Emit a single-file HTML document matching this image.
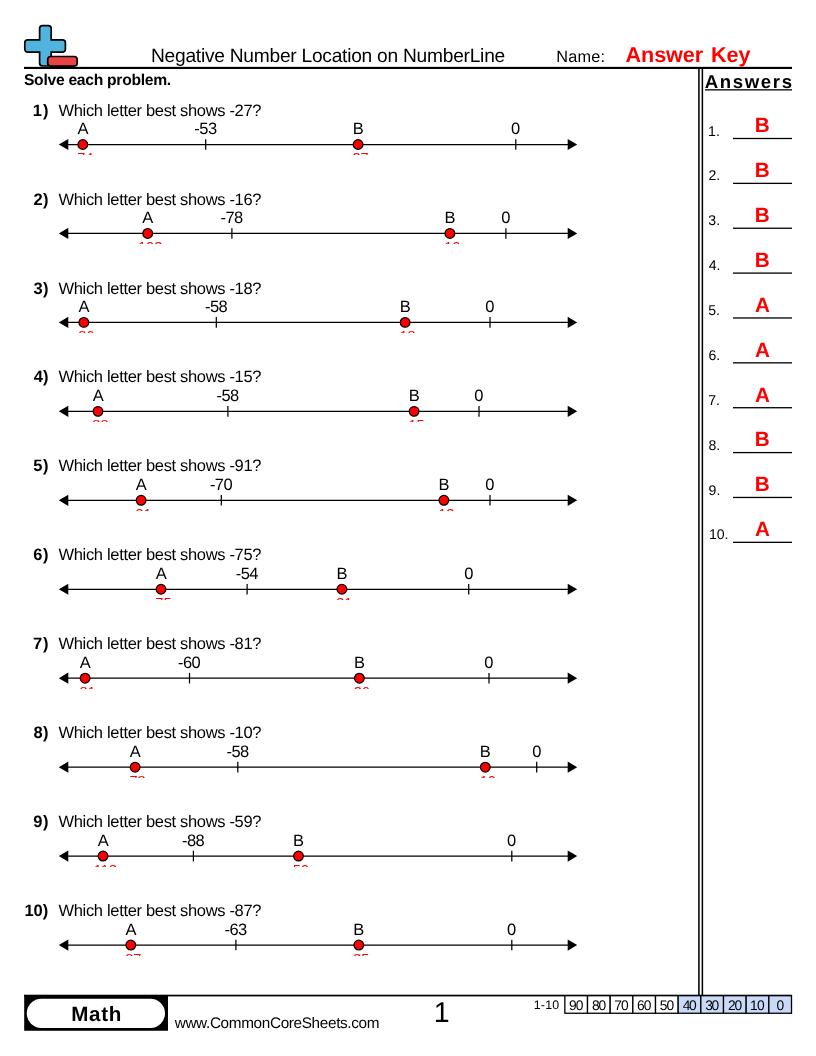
<!DOCTYPE html>
<html><head><meta charset="utf-8"><title>Negative Number Location on NumberLine</title>
<style>
*{margin:0;padding:0;box-sizing:border-box}
html,body{width:816px;height:1056px;background:#fff;overflow:hidden}
body{position:relative;will-change:transform;font-family:"Liberation Sans",sans-serif;color:#000;text-rendering:geometricPrecision}
.t{position:absolute;white-space:nowrap;line-height:1}
.b{font-weight:bold}
.r{color:#f00}
.val{position:absolute;white-space:nowrap;line-height:1;font-size:14.5px;color:#f00;text-align:center;width:60px;height:2px;overflow:hidden}
.val span{position:absolute;left:0;width:60px;display:block}
svg{position:absolute;left:0;top:0}
</style></head>
<body>
<svg width="816" height="1056" viewBox="0 0 816 1056">
<path d="M42.6 25.6 h5.6 a3 3 0 0 1 3 3 v11.2 h11.2 a3 3 0 0 1 3 3 v6.4 a3 3 0 0 1 -3 3 h-11.2 v10.8 a3 3 0 0 1 -3 3 h-5.6 a3 3 0 0 1 -3 -3 v-10.8 h-11.8 a3 3 0 0 1 -3 -3 v-6.4 a3 3 0 0 1 3 -3 h11.8 v-11.2 a3 3 0 0 1 3 -3 z" fill="#50b4df" stroke="#000" stroke-width="1.7"/>
<rect x="47.7" y="56.5" width="29.5" height="9.6" rx="3" fill="#e84444" stroke="#000" stroke-width="1.7"/>
<rect x="24" y="66.85" width="768" height="2.15" fill="#000"/>
<rect x="698.15" y="68" width="1.55" height="927" fill="#000"/>
<rect x="701.6" y="68" width="1.55" height="927" fill="#000"/>
<rect x="705" y="89.2" width="87" height="1.3" fill="#000"/>
<rect x="733" y="137.85" width="59" height="1.3" fill="#000"/>
<rect x="733" y="182.72" width="59" height="1.3" fill="#000"/>
<rect x="733" y="227.59" width="59" height="1.3" fill="#000"/>
<rect x="733" y="272.46" width="59" height="1.3" fill="#000"/>
<rect x="733" y="317.33" width="59" height="1.3" fill="#000"/>
<rect x="733" y="362.20" width="59" height="1.3" fill="#000"/>
<rect x="733" y="407.07" width="59" height="1.3" fill="#000"/>
<rect x="733" y="451.94" width="59" height="1.3" fill="#000"/>
<rect x="733" y="496.81" width="59" height="1.3" fill="#000"/>
<rect x="733" y="541.68" width="59" height="1.3" fill="#000"/>
<g transform="translate(0 144.50)"><line x1="66" y1="0" x2="570" y2="0" stroke="#000" stroke-width="1.25"/><path d="M58.8 0 L68.3 -5.6 L68.3 5.6 Z M577.2 0 L567.7 -5.6 L567.7 5.6 Z" fill="#000"/><line x1="205.7" y1="-5.3" x2="205.7" y2="5.3" stroke="#000" stroke-width="1.25"/><line x1="515.8" y1="-5.3" x2="515.8" y2="5.3" stroke="#000" stroke-width="1.25"/><circle cx="82.8" cy="0" r="4.85" fill="#f00" stroke="#000" stroke-width="1.25"/><circle cx="358.1" cy="0" r="4.85" fill="#f00" stroke="#000" stroke-width="1.25"/></g>
<g transform="translate(0 233.45)"><line x1="66" y1="0" x2="570" y2="0" stroke="#000" stroke-width="1.25"/><path d="M58.8 0 L68.3 -5.6 L68.3 5.6 Z M577.2 0 L567.7 -5.6 L567.7 5.6 Z" fill="#000"/><line x1="231.9" y1="-5.3" x2="231.9" y2="5.3" stroke="#000" stroke-width="1.25"/><line x1="505.9" y1="-5.3" x2="505.9" y2="5.3" stroke="#000" stroke-width="1.25"/><circle cx="147.7" cy="0" r="4.85" fill="#f00" stroke="#000" stroke-width="1.25"/><circle cx="449.9" cy="0" r="4.85" fill="#f00" stroke="#000" stroke-width="1.25"/></g>
<g transform="translate(0 322.40)"><line x1="66" y1="0" x2="570" y2="0" stroke="#000" stroke-width="1.25"/><path d="M58.8 0 L68.3 -5.6 L68.3 5.6 Z M577.2 0 L567.7 -5.6 L567.7 5.6 Z" fill="#000"/><line x1="216.3" y1="-5.3" x2="216.3" y2="5.3" stroke="#000" stroke-width="1.25"/><line x1="490.0" y1="-5.3" x2="490.0" y2="5.3" stroke="#000" stroke-width="1.25"/><circle cx="83.8" cy="0" r="4.85" fill="#f00" stroke="#000" stroke-width="1.25"/><circle cx="405.1" cy="0" r="4.85" fill="#f00" stroke="#000" stroke-width="1.25"/></g>
<g transform="translate(0 411.35)"><line x1="66" y1="0" x2="570" y2="0" stroke="#000" stroke-width="1.25"/><path d="M58.8 0 L68.3 -5.6 L68.3 5.6 Z M577.2 0 L567.7 -5.6 L567.7 5.6 Z" fill="#000"/><line x1="227.9" y1="-5.3" x2="227.9" y2="5.3" stroke="#000" stroke-width="1.25"/><line x1="479.0" y1="-5.3" x2="479.0" y2="5.3" stroke="#000" stroke-width="1.25"/><circle cx="98.0" cy="0" r="4.85" fill="#f00" stroke="#000" stroke-width="1.25"/><circle cx="414.1" cy="0" r="4.85" fill="#f00" stroke="#000" stroke-width="1.25"/></g>
<g transform="translate(0 500.30)"><line x1="66" y1="0" x2="570" y2="0" stroke="#000" stroke-width="1.25"/><path d="M58.8 0 L68.3 -5.6 L68.3 5.6 Z M577.2 0 L567.7 -5.6 L567.7 5.6 Z" fill="#000"/><line x1="221.3" y1="-5.3" x2="221.3" y2="5.3" stroke="#000" stroke-width="1.25"/><line x1="490.0" y1="-5.3" x2="490.0" y2="5.3" stroke="#000" stroke-width="1.25"/><circle cx="141.1" cy="0" r="4.85" fill="#f00" stroke="#000" stroke-width="1.25"/><circle cx="443.9" cy="0" r="4.85" fill="#f00" stroke="#000" stroke-width="1.25"/></g>
<g transform="translate(0 589.25)"><line x1="66" y1="0" x2="570" y2="0" stroke="#000" stroke-width="1.25"/><path d="M58.8 0 L68.3 -5.6 L68.3 5.6 Z M577.2 0 L567.7 -5.6 L567.7 5.6 Z" fill="#000"/><line x1="247.1" y1="-5.3" x2="247.1" y2="5.3" stroke="#000" stroke-width="1.25"/><line x1="468.7" y1="-5.3" x2="468.7" y2="5.3" stroke="#000" stroke-width="1.25"/><circle cx="161.0" cy="0" r="4.85" fill="#f00" stroke="#000" stroke-width="1.25"/><circle cx="341.9" cy="0" r="4.85" fill="#f00" stroke="#000" stroke-width="1.25"/></g>
<g transform="translate(0 678.20)"><line x1="66" y1="0" x2="570" y2="0" stroke="#000" stroke-width="1.25"/><path d="M58.8 0 L68.3 -5.6 L68.3 5.6 Z M577.2 0 L567.7 -5.6 L567.7 5.6 Z" fill="#000"/><line x1="189.5" y1="-5.3" x2="189.5" y2="5.3" stroke="#000" stroke-width="1.25"/><line x1="489.0" y1="-5.3" x2="489.0" y2="5.3" stroke="#000" stroke-width="1.25"/><circle cx="85.1" cy="0" r="4.85" fill="#f00" stroke="#000" stroke-width="1.25"/><circle cx="359.4" cy="0" r="4.85" fill="#f00" stroke="#000" stroke-width="1.25"/></g>
<g transform="translate(0 767.15)"><line x1="66" y1="0" x2="570" y2="0" stroke="#000" stroke-width="1.25"/><path d="M58.8 0 L68.3 -5.6 L68.3 5.6 Z M577.2 0 L567.7 -5.6 L567.7 5.6 Z" fill="#000"/><line x1="237.8" y1="-5.3" x2="237.8" y2="5.3" stroke="#000" stroke-width="1.25"/><line x1="536.7" y1="-5.3" x2="536.7" y2="5.3" stroke="#000" stroke-width="1.25"/><circle cx="135.1" cy="0" r="4.85" fill="#f00" stroke="#000" stroke-width="1.25"/><circle cx="485.3" cy="0" r="4.85" fill="#f00" stroke="#000" stroke-width="1.25"/></g>
<g transform="translate(0 856.10)"><line x1="66" y1="0" x2="570" y2="0" stroke="#000" stroke-width="1.25"/><path d="M58.8 0 L68.3 -5.6 L68.3 5.6 Z M577.2 0 L567.7 -5.6 L567.7 5.6 Z" fill="#000"/><line x1="193.4" y1="-5.3" x2="193.4" y2="5.3" stroke="#000" stroke-width="1.25"/><line x1="511.8" y1="-5.3" x2="511.8" y2="5.3" stroke="#000" stroke-width="1.25"/><circle cx="103.0" cy="0" r="4.85" fill="#f00" stroke="#000" stroke-width="1.25"/><circle cx="298.5" cy="0" r="4.85" fill="#f00" stroke="#000" stroke-width="1.25"/></g>
<g transform="translate(0 945.05)"><line x1="66" y1="0" x2="570" y2="0" stroke="#000" stroke-width="1.25"/><path d="M58.8 0 L68.3 -5.6 L68.3 5.6 Z M577.2 0 L567.7 -5.6 L567.7 5.6 Z" fill="#000"/><line x1="235.9" y1="-5.3" x2="235.9" y2="5.3" stroke="#000" stroke-width="1.25"/><line x1="511.8" y1="-5.3" x2="511.8" y2="5.3" stroke="#000" stroke-width="1.25"/><circle cx="130.8" cy="0" r="4.85" fill="#f00" stroke="#000" stroke-width="1.25"/><circle cx="358.8" cy="0" r="4.85" fill="#f00" stroke="#000" stroke-width="1.25"/></g>
<rect x="24" y="994.7" width="768" height="1.7" fill="#000"/>
<rect x="24.2" y="995" width="143.8" height="35.75" fill="#000"/>
<rect x="26.75" y="998.75" width="138.25" height="29.25" rx="14.6" fill="#fff"/>
<rect x="564.85" y="995.7" width="22.665" height="17.55" fill="#fff" stroke="#000" stroke-width="1.3"/>
<rect x="587.51" y="995.7" width="22.665" height="17.55" fill="#fff" stroke="#000" stroke-width="1.3"/>
<rect x="610.18" y="995.7" width="22.665" height="17.55" fill="#fff" stroke="#000" stroke-width="1.3"/>
<rect x="632.85" y="995.7" width="22.665" height="17.55" fill="#fff" stroke="#000" stroke-width="1.3"/>
<rect x="655.51" y="995.7" width="22.665" height="17.55" fill="#fff" stroke="#000" stroke-width="1.3"/>
<rect x="678.17" y="995.7" width="22.665" height="17.55" fill="#c9daf8" stroke="#000" stroke-width="1.3"/>
<rect x="700.84" y="995.7" width="22.665" height="17.55" fill="#c9daf8" stroke="#000" stroke-width="1.3"/>
<rect x="723.50" y="995.7" width="22.665" height="17.55" fill="#c9daf8" stroke="#000" stroke-width="1.3"/>
<rect x="746.17" y="995.7" width="22.665" height="17.55" fill="#c9daf8" stroke="#000" stroke-width="1.3"/>
<rect x="768.84" y="995.7" width="22.665" height="17.55" fill="#c9daf8" stroke="#000" stroke-width="1.3"/>
</svg>
<div class="t" style="left:150.96px;top:47px;font-size:19.2px;letter-spacing:-0.255px">Negative Number Location on NumberLine</div>
<div class="t" style="left:556.18px;top:49px;font-size:16.3px;letter-spacing:0.197px">Name:</div>
<div class="t b r" style="left:625.59px;top:44px;font-size:21.6px;letter-spacing:-0.096px;word-spacing:2.2px">Answer Key</div>
<div class="t b" style="left:23.96px;top:73px;font-size:15.7px;letter-spacing:-0.294px">Solve each problem.</div>
<div class="t b" style="left:704.65px;top:73px;font-size:18.6px;letter-spacing:1.642px">Answers</div>
<div class="t" style="left:708.12px;top:124px;font-size:14.1px">1.</div>
<div class="t b r" style="left:754.64px;top:116px;font-size:20.7px">B</div>
<div class="t" style="left:708.51px;top:168px;font-size:14.1px">2.</div>
<div class="t b r" style="left:754.64px;top:161px;font-size:20.7px">B</div>
<div class="t" style="left:708.35px;top:213px;font-size:14.1px">3.</div>
<div class="t b r" style="left:754.64px;top:206px;font-size:20.7px">B</div>
<div class="t" style="left:708.65px;top:258px;font-size:14.1px">4.</div>
<div class="t b r" style="left:754.64px;top:251px;font-size:20.7px">B</div>
<div class="t" style="left:708.23px;top:303px;font-size:14.1px">5.</div>
<div class="t b r" style="left:754.93px;top:296px;font-size:20.7px">A</div>
<div class="t" style="left:708.47px;top:348px;font-size:14.1px">6.</div>
<div class="t b r" style="left:754.93px;top:341px;font-size:20.7px">A</div>
<div class="t" style="left:708.25px;top:393px;font-size:14.1px">7.</div>
<div class="t b r" style="left:754.93px;top:386px;font-size:20.7px">A</div>
<div class="t" style="left:708.42px;top:438px;font-size:14.1px">8.</div>
<div class="t b r" style="left:754.64px;top:430px;font-size:20.7px">B</div>
<div class="t" style="left:708.56px;top:483px;font-size:14.1px">9.</div>
<div class="t b r" style="left:754.64px;top:475px;font-size:20.7px">B</div>
<div class="t" style="left:708.92px;top:527px;font-size:14.1px">10.</div>
<div class="t b r" style="left:754.93px;top:520px;font-size:20.7px">A</div>
<div class="t b" style="left:32.79px;top:103px;font-size:16.5px;letter-spacing:0.984px">1)</div>
<div class="t" style="left:58.49px;top:103px;font-size:16.5px;letter-spacing:-0.327px">Which letter best shows -27?</div>
<div class="t" style="left:77.52px;top:121px;font-size:16.5px">A</div>
<div class="t" style="left:352.65px;top:121px;font-size:16.5px">B</div>
<div class="t" style="left:194.25px;top:121px;font-size:16.5px;letter-spacing:-0.422px">-53</div>
<div class="t" style="left:511.06px;top:121px;font-size:16.5px">0</div>
<div class="t b" style="left:33.43px;top:192px;font-size:16.5px;letter-spacing:0.341px">2)</div>
<div class="t" style="left:58.49px;top:192px;font-size:16.5px;letter-spacing:-0.327px">Which letter best shows -16?</div>
<div class="t" style="left:142.24px;top:210px;font-size:16.5px">A</div>
<div class="t" style="left:444.42px;top:210px;font-size:16.5px">B</div>
<div class="t" style="left:220.47px;top:210px;font-size:16.5px;letter-spacing:-0.531px">-78</div>
<div class="t" style="left:501.33px;top:210px;font-size:16.5px">0</div>
<div class="t b" style="left:33.41px;top:281px;font-size:16.5px;letter-spacing:0.369px">3)</div>
<div class="t" style="left:58.49px;top:281px;font-size:16.5px;letter-spacing:-0.327px">Which letter best shows -18?</div>
<div class="t" style="left:78.52px;top:299px;font-size:16.5px">A</div>
<div class="t" style="left:399.65px;top:299px;font-size:16.5px">B</div>
<div class="t" style="left:205.01px;top:299px;font-size:16.5px;letter-spacing:-0.545px">-58</div>
<div class="t" style="left:485.36px;top:299px;font-size:16.5px">0</div>
<div class="t b" style="left:33.74px;top:369px;font-size:16.5px;letter-spacing:0.039px">4)</div>
<div class="t" style="left:58.49px;top:369px;font-size:16.5px;letter-spacing:-0.327px">Which letter best shows -15?</div>
<div class="t" style="left:92.74px;top:388px;font-size:16.5px">A</div>
<div class="t" style="left:408.65px;top:388px;font-size:16.5px">B</div>
<div class="t" style="left:216.47px;top:388px;font-size:16.5px;letter-spacing:-0.531px">-58</div>
<div class="t" style="left:474.36px;top:388px;font-size:16.5px">0</div>
<div class="t b" style="left:33.23px;top:458px;font-size:16.5px;letter-spacing:0.545px">5)</div>
<div class="t" style="left:58.49px;top:458px;font-size:16.5px;letter-spacing:-0.327px">Which letter best shows -91?</div>
<div class="t" style="left:135.69px;top:477px;font-size:16.5px">A</div>
<div class="t" style="left:438.42px;top:477px;font-size:16.5px">B</div>
<div class="t" style="left:210.01px;top:477px;font-size:16.5px;letter-spacing:-0.647px">-70</div>
<div class="t" style="left:485.36px;top:477px;font-size:16.5px">0</div>
<div class="t b" style="left:33.19px;top:547px;font-size:16.5px;letter-spacing:0.588px">6)</div>
<div class="t" style="left:58.49px;top:547px;font-size:16.5px;letter-spacing:-0.327px">Which letter best shows -75?</div>
<div class="t" style="left:155.74px;top:566px;font-size:16.5px">A</div>
<div class="t" style="left:336.42px;top:566px;font-size:16.5px">B</div>
<div class="t" style="left:235.74px;top:566px;font-size:16.5px;letter-spacing:-0.563px">-54</div>
<div class="t" style="left:464.13px;top:566px;font-size:16.5px">0</div>
<div class="t b" style="left:33.09px;top:636px;font-size:16.5px;letter-spacing:0.686px">7)</div>
<div class="t" style="left:58.49px;top:636px;font-size:16.5px;letter-spacing:-0.327px">Which letter best shows -81?</div>
<div class="t" style="left:79.69px;top:655px;font-size:16.5px">A</div>
<div class="t" style="left:353.92px;top:655px;font-size:16.5px">B</div>
<div class="t" style="left:178.01px;top:655px;font-size:16.5px;letter-spacing:-0.527px">-60</div>
<div class="t" style="left:484.36px;top:655px;font-size:16.5px">0</div>
<div class="t b" style="left:33.40px;top:725px;font-size:16.5px;letter-spacing:0.373px">8)</div>
<div class="t" style="left:58.49px;top:725px;font-size:16.5px;letter-spacing:-0.327px">Which letter best shows -10?</div>
<div class="t" style="left:129.69px;top:744px;font-size:16.5px">A</div>
<div class="t" style="left:479.64px;top:744px;font-size:16.5px">B</div>
<div class="t" style="left:226.49px;top:744px;font-size:16.5px;letter-spacing:-0.547px">-58</div>
<div class="t" style="left:532.13px;top:744px;font-size:16.5px">0</div>
<div class="t b" style="left:33.22px;top:814px;font-size:16.5px;letter-spacing:0.557px">9)</div>
<div class="t" style="left:58.49px;top:814px;font-size:16.5px;letter-spacing:-0.327px">Which letter best shows -59?</div>
<div class="t" style="left:97.74px;top:833px;font-size:16.5px">A</div>
<div class="t" style="left:292.94px;top:833px;font-size:16.5px">B</div>
<div class="t" style="left:182.03px;top:833px;font-size:16.5px;letter-spacing:-0.559px">-88</div>
<div class="t" style="left:507.06px;top:833px;font-size:16.5px">0</div>
<div class="t b" style="left:24.45px;top:903px;font-size:16.5px">10)</div>
<div class="t" style="left:58.49px;top:903px;font-size:16.5px;letter-spacing:-0.327px">Which letter best shows -87?</div>
<div class="t" style="left:125.52px;top:922px;font-size:16.5px">A</div>
<div class="t" style="left:353.16px;top:922px;font-size:16.5px">B</div>
<div class="t" style="left:224.47px;top:922px;font-size:16.5px;letter-spacing:-0.520px">-63</div>
<div class="t" style="left:507.06px;top:922px;font-size:16.5px">0</div>
<div class="t b" style="left:71.22px;top:1005px;font-size:20.6px;letter-spacing:0.661px">Math</div>
<div class="t" style="left:174.70px;top:1016px;font-size:15.3px;letter-spacing:-0.335px">www.CommonCoreSheets.com</div>
<div class="t" style="left:433.65px;top:999px;font-size:28.6px">1</div>
<div class="t" style="left:533.74px;top:999px;font-size:12.4px;letter-spacing:0.234px">1-10</div>
<div class="t" style="left:569.12px;top:999px;font-size:13.8px;letter-spacing:-1.125px">90</div>
<div class="t" style="left:591.92px;top:999px;font-size:13.8px;letter-spacing:-1.153px">80</div>
<div class="t" style="left:614.30px;top:999px;font-size:13.8px;letter-spacing:-0.953px">70</div>
<div class="t" style="left:636.99px;top:999px;font-size:13.8px;letter-spacing:-1.024px">60</div>
<div class="t" style="left:659.81px;top:999px;font-size:13.8px;letter-spacing:-1.075px">50</div>
<div class="t" style="left:682.71px;top:999px;font-size:13.8px;letter-spacing:-1.392px">40</div>
<div class="t" style="left:705.13px;top:999px;font-size:13.8px;letter-spacing:-1.188px">30</div>
<div class="t" style="left:727.91px;top:999px;font-size:13.8px;letter-spacing:-1.200px">20</div>
<div class="t" style="left:750.10px;top:999px;font-size:13.8px;letter-spacing:-0.812px">10</div>
<div class="t" style="left:776.49px;top:999px;font-size:13.8px">0</div>
<div class="val" style="left:52.8px;top:153px"><span style="top:-1px">-74</span></div>
<div class="val" style="left:328.1px;top:153px"><span style="top:-1px">-27</span></div>
<div class="val" style="left:117.7px;top:242px"><span style="top:-1px">-102</span></div>
<div class="val" style="left:419.9px;top:242px"><span style="top:-1px">-16</span></div>
<div class="val" style="left:53.8px;top:331px"><span style="top:-1px">-86</span></div>
<div class="val" style="left:375.1px;top:331px"><span style="top:-1px">-18</span></div>
<div class="val" style="left:68.0px;top:420px"><span style="top:-1px">-88</span></div>
<div class="val" style="left:384.1px;top:420px"><span style="top:-1px">-15</span></div>
<div class="val" style="left:111.1px;top:509px"><span style="top:-1px">-91</span></div>
<div class="val" style="left:413.9px;top:509px"><span style="top:-1px">-12</span></div>
<div class="val" style="left:131.0px;top:598px"><span style="top:-1px">-75</span></div>
<div class="val" style="left:311.9px;top:598px"><span style="top:-1px">-31</span></div>
<div class="val" style="left:55.1px;top:687px"><span style="top:-1px">-81</span></div>
<div class="val" style="left:329.4px;top:687px"><span style="top:-1px">-26</span></div>
<div class="val" style="left:105.1px;top:776px"><span style="top:-1px">-78</span></div>
<div class="val" style="left:455.3px;top:776px"><span style="top:-1px">-10</span></div>
<div class="val" style="left:73.0px;top:865px"><span style="top:-1px">-113</span></div>
<div class="val" style="left:268.5px;top:865px"><span style="top:-1px">-59</span></div>
<div class="val" style="left:100.8px;top:954px"><span style="top:-1px">-87</span></div>
<div class="val" style="left:328.8px;top:954px"><span style="top:-1px">-35</span></div>
</body></html>
